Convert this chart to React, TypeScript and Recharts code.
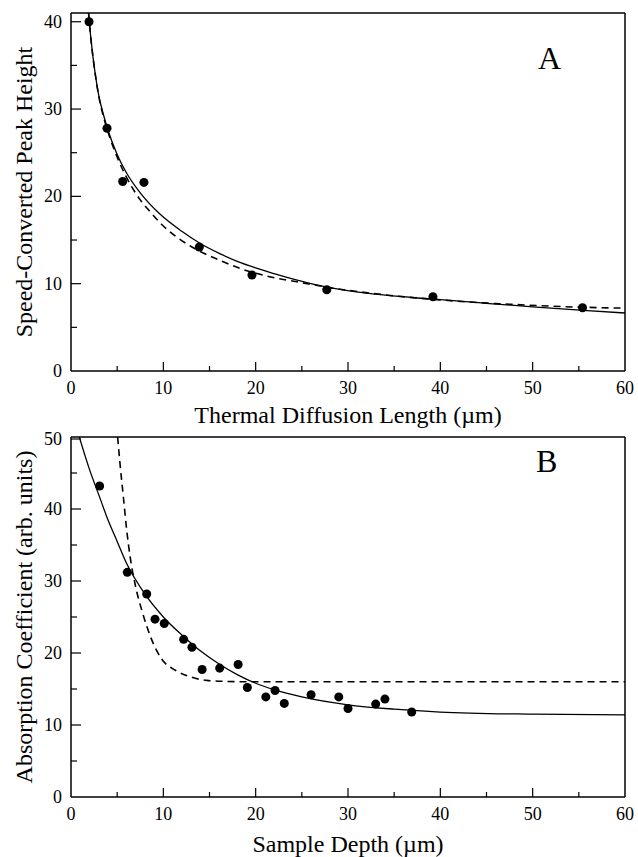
import React from 'react';
import { ComposedChart, Line, Scatter, XAxis, YAxis, ReferenceLine } from 'recharts';

// Panel A: speed-converted peak height vs thermal diffusion length
const aPoints = [
  { x: 1.95, y: 40 },
  { x: 3.9, y: 27.8 },
  { x: 5.6, y: 21.7 },
  { x: 7.9, y: 21.6 },
  { x: 13.9, y: 14.2 },
  { x: 19.6, y: 11.0 },
  { x: 27.7, y: 9.3 },
  { x: 39.2, y: 8.5 },
  { x: 55.4, y: 7.25 },
];

const aSolid = [
  { x: 1.9, y: 41 }, { x: 2.2, y: 37.6 }, { x: 2.6, y: 34.2 }, { x: 3, y: 31.6 },
  { x: 3.5, y: 29.4 }, { x: 4, y: 27.6 }, { x: 5, y: 24.8 }, { x: 6, y: 22.7 },
  { x: 7.5, y: 20.4 }, { x: 9.6, y: 18.0 }, { x: 12, y: 16.0 }, { x: 14, y: 14.6 },
  { x: 16, y: 13.5 }, { x: 18, y: 12.55 }, { x: 20, y: 11.8 }, { x: 22, y: 11.15 },
  { x: 24.5, y: 10.4 }, { x: 27.7, y: 9.6 }, { x: 33, y: 8.8 }, { x: 39, y: 8.25 },
  { x: 45, y: 7.75 }, { x: 50, y: 7.35 }, { x: 55.5, y: 6.95 }, { x: 60, y: 6.64 },
];

const aDashed = [
  { x: 1.9, y: 41 }, { x: 2.2, y: 37.6 }, { x: 2.6, y: 34.2 }, { x: 3, y: 31.5 },
  { x: 3.5, y: 29.2 }, { x: 4, y: 27.4 }, { x: 5, y: 24.5 }, { x: 6, y: 22.2 },
  { x: 7.5, y: 19.6 }, { x: 8.6, y: 18.2 }, { x: 9.8, y: 16.8 }, { x: 11.5, y: 15.3 },
  { x: 13.1, y: 14.2 }, { x: 16.5, y: 12.5 }, { x: 18.3, y: 11.75 }, { x: 21.5, y: 10.8 },
  { x: 24.8, y: 10.15 }, { x: 28, y: 9.55 }, { x: 33.8, y: 8.75 }, { x: 41.8, y: 8.0 },
  { x: 48.3, y: 7.6 }, { x: 55.5, y: 7.3 }, { x: 60, y: 7.2 },
];

// Panel B: absorption coefficient vs sample depth
const bPoints = [
  { x: 3.1, y: 43.2 }, { x: 6.1, y: 31.2 }, { x: 8.2, y: 28.2 }, { x: 9.1, y: 24.7 },
  { x: 10.1, y: 24.1 }, { x: 12.2, y: 21.9 }, { x: 13.1, y: 20.8 }, { x: 14.2, y: 17.7 },
  { x: 16.1, y: 17.9 }, { x: 18.1, y: 18.4 }, { x: 19.1, y: 15.2 }, { x: 21.1, y: 13.9 },
  { x: 22.1, y: 14.8 }, { x: 23.1, y: 13.0 }, { x: 26.0, y: 14.2 }, { x: 29.0, y: 13.9 },
  { x: 30.0, y: 12.3 }, { x: 33.0, y: 12.9 }, { x: 34.0, y: 13.6 }, { x: 36.9, y: 11.8 },
];

const bSolid = [
  { x: 0.9, y: 50 }, { x: 2, y: 45.5 }, { x: 3, y: 42 }, { x: 4, y: 38.5 },
  { x: 5, y: 35.5 }, { x: 6, y: 32.5 }, { x: 8, y: 28.2 }, { x: 10, y: 25 },
  { x: 12, y: 22.5 }, { x: 14, y: 20.3 }, { x: 16, y: 18.5 }, { x: 18, y: 17 },
  { x: 20, y: 15.8 }, { x: 22, y: 14.9 }, { x: 25, y: 13.9 }, { x: 30, y: 12.8 },
  { x: 35, y: 12.2 }, { x: 40, y: 11.8 }, { x: 50, y: 11.5 }, { x: 60, y: 11.4 },
];

const bDashed = [
  { x: 5.05, y: 50 }, { x: 5.3, y: 46.4 }, { x: 5.67, y: 41.7 }, { x: 6.03, y: 37.1 },
  { x: 6.4, y: 33.4 }, { x: 7, y: 29.2 }, { x: 7.7, y: 25.8 }, { x: 8.6, y: 22.3 },
  { x: 9.8, y: 19.2 }, { x: 11.3, y: 17.6 }, { x: 12.9, y: 16.7 }, { x: 14.7, y: 16.2 },
  { x: 17, y: 16.05 }, { x: 20, y: 16 }, { x: 60, y: 16 },
];

const xTicks = [0, 5, 10, 15, 20, 25, 30, 35, 40, 45, 50, 55, 60];
const aYTicks = [0, 5, 10, 15, 20, 25, 30, 35, 40];
const bYTicks = [0, 5, 10, 15, 20, 25, 30, 35, 40, 45, 50];

const FONT = '"Liberation Serif", "Times New Roman", serif';

const XTick = (props: any) => {
  const { x, y, payload } = props;
  const v = payload.value;
  const major = v % 10 === 0;
  return (
    <g>
      {v > 0 && v < 60 && (
        <line x1={x} x2={x} y1={y} y2={y - (major ? 9 : 5)} stroke="#000" strokeWidth={1.2} />
      )}
      {major && (
        <text x={x} y={y + 23} textAnchor="middle" fontFamily={FONT} fontSize={18} fill="#000">
          {v}
        </text>
      )}
    </g>
  );
};

const YTick = (props: any) => {
  const { x, y, payload } = props;
  const v = payload.value;
  const major = v % 10 === 0;
  return (
    <g>
      {v > 0 && (
        <line x1={x} x2={x + (major ? 10 : 6)} y1={y} y2={y} stroke="#000" strokeWidth={1.2} />
      )}
      {major && (
        <text x={x - 9} y={y + 6} textAnchor="end" fontFamily={FONT} fontSize={18} fill="#000">
          {v}
        </text>
      )}
    </g>
  );
};

const xTitle = (text: string, dy: number) => (props: any) => {
  const { x, y, width } = props.viewBox;
  return (
    <text x={x + width / 2} y={y + dy} textAnchor="middle" fontFamily={FONT} fontSize={24} fill="#000">
      {text}
    </text>
  );
};

const yTitle = (text: string) => (props: any) => {
  const { y, height } = props.viewBox;
  const cy = y + height / 2;
  return (
    <text x={32} y={cy} transform={`rotate(-90, 32, ${cy})`} textAnchor="middle" fontFamily={FONT} fontSize={24} fill="#000">
      {text}
    </text>
  );
};

const Panel = ({ height, top, yMax, yTicks, points, solid, dashed, xLabel, yLabel, xaxisHeight, titleDy }: any) => (
  <ComposedChart width={638} height={height} margin={{ top, right: 13, left: 0, bottom: 0 }}>
    <XAxis
      type="number"
      dataKey="x"
      domain={[0, 60]}
      ticks={xTicks}
      allowDataOverflow
      height={xaxisHeight}
      tickSize={0}
      tickMargin={0}
      tickLine={false}
      tick={<XTick />}
      axisLine={{ stroke: '#000', strokeWidth: 1.5 }}
      label={{ content: xTitle(xLabel, titleDy) }}
    />
    <YAxis
      type="number"
      dataKey="y"
      domain={[0, yMax]}
      ticks={yTicks}
      allowDataOverflow
      width={71}
      tickSize={0}
      tickMargin={0}
      tickLine={false}
      tick={<YTick />}
      axisLine={{ stroke: '#000', strokeWidth: 1.5 }}
      label={{ content: yTitle(yLabel) }}
    />
    <ReferenceLine y={yMax} stroke="#000" strokeWidth={1.5} />
    <ReferenceLine x={60} stroke="#000" strokeWidth={1.5} />
    <Line data={solid} dataKey="y" type="monotone" stroke="#000" strokeWidth={1.3} dot={false} isAnimationActive={false} />
    <Line data={dashed} dataKey="y" type="monotone" stroke="#000" strokeWidth={1.6} strokeDasharray="7 5" dot={false} isAnimationActive={false} />
    <Scatter data={points} dataKey="y" fill="#000" shape="circle" isAnimationActive={false} />
  </ComposedChart>
);

export default function App() {
  return (
    <div style={{ position: 'absolute', left: 0, top: 0, width: 638, height: 857, background: '#fff' }}>
      <div style={{ position: 'absolute', left: 0, top: 0 }}>
        <Panel
          height={430}
          top={13}
          yMax={41}
          yTicks={aYTicks}
          points={aPoints}
          solid={aSolid}
          dashed={aDashed}
          xLabel="Thermal Diffusion Length (µm)"
          yLabel="Speed-Converted Peak Height"
          xaxisHeight={59}
          titleDy={52}
        />
      </div>
      <div style={{ position: 'absolute', left: 0, top: 430 }}>
        <Panel
          height={427}
          top={7}
          yMax={50}
          yTicks={bYTicks}
          points={bPoints}
          solid={bSolid}
          dashed={bDashed}
          xLabel="Sample Depth (µm)"
          yLabel="Absorption Coefficient (arb. units)"
          xaxisHeight={60}
          titleDy={55}
        />
      </div>
      <div style={{ position: 'absolute', left: 538, top: 40, fontFamily: FONT, fontSize: 32, lineHeight: '36px' }}>A</div>
      <div style={{ position: 'absolute', left: 536, top: 443, fontFamily: FONT, fontSize: 32, lineHeight: '36px' }}>B</div>
    </div>
  );
}
